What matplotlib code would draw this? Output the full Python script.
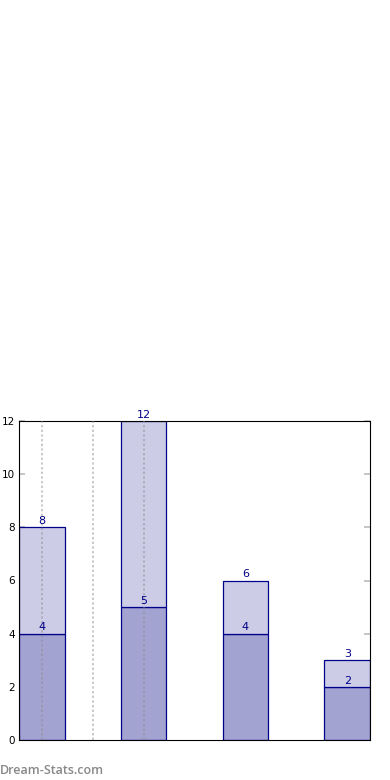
import matplotlib
matplotlib.use("Agg")
import matplotlib.pyplot as plt

# data
positions = [0, 1, 2, 3]
lower_vals = [4, 5, 4, 2]
total_vals = [8, 12, 6, 3]
upper_vals = [t - l for t, l in zip(total_vals, lower_vals)]
grid_x = [0.225, 0.725, 1.225]
y_ticks = [0, 2, 4, 6, 8, 10, 12]

NAVY = "#000088"
LIGHT = "#CCCCE6"
DARK = "#A3A3D1"

fig = plt.figure(figsize=(3.9, 7.8), dpi=100)
ax = fig.add_axes([19 / 390, 40 / 780, 351 / 390, 319 / 780])

width = 0.447
ax.bar(positions, lower_vals, width, align="edge", color=DARK,
       edgecolor=NAVY, linewidth=0.9, zorder=2)
ax.bar(positions, upper_vals, width, bottom=lower_vals, align="edge",
       color=LIGHT, edgecolor=NAVY, linewidth=0.9, zorder=2)

for gx in grid_x:
    ax.axvline(gx, color="#888888", ls=(0, (1.2, 1.2)), lw=1.4, alpha=0.45,
               zorder=3)

for p, lo, tot in zip(positions, lower_vals, total_vals):
    cx = p + width / 2
    ax.text(cx, lo + 0.05, str(lo), ha="center", va="bottom",
            color=NAVY, fontsize=8, zorder=4)
    ax.text(cx, tot + 0.05, str(tot), ha="center", va="bottom",
            color=NAVY, fontsize=8, zorder=4)

ax.set_xlim(0, positions[-1] + width)
ax.set_ylim(0, 12)
ax.set_yticks(y_ticks)
ax.set_xticks([])
ax.tick_params(axis="y", labelsize=7.5, direction="in", length=4,
               color="#BBBBBB", width=1.2, right=True, pad=3)

fig.text(0.0, 10 / 780, "Dream-Stats.com", color="#888888", fontsize=9,
         family="Open Sans", fontweight="semibold", ha="left", va="center")

fig.savefig("out.png", dpi=100)
